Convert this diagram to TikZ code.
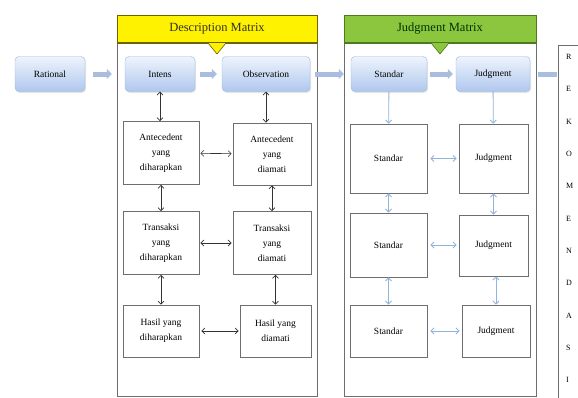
\documentclass[tikz,border=0pt]{standalone}
\usepackage{fontspec}
\setmainfont{Liberation Serif}
\usetikzlibrary{arrows.meta,shadows}

\definecolor{hdryellow}{HTML}{FFF200}
\definecolor{hdryline}{HTML}{6B6400}
\definecolor{hdrgreen}{HTML}{8CC63F}
\definecolor{hdrgline}{HTML}{4C7A1C}
\definecolor{boxtop}{HTML}{EEF4FC}
\definecolor{boxbot}{HTML}{AFC7EE}
\definecolor{boxedge}{HTML}{9DB6E0}
\definecolor{flowblue}{HTML}{A9BEDF}
\definecolor{linkblue}{HTML}{92B4DC}
\definecolor{framegray}{HTML}{6E6E6E}

\tikzset{
  flowbox/.style={draw=boxedge, rounded corners=4pt, top color=boxtop,
    bottom color=boxbot, drop shadow={opacity=0.2,shadow xshift=1pt,shadow yshift=-1.5pt},
    minimum height=35pt, font=\fontsize{9.5}{11}\selectfont},
  stepbox/.style={draw=framegray, line width=0.9pt, fill=white, align=center,
    inner sep=2pt, font=\fontsize{9.5}{15}\selectfont},
  flowarr/.style={line width=5pt, flowblue, -{Triangle[length=5pt,width=10pt]}},
  desclink/.style={<->, >={Straight Barb[length=3pt,width=6pt]}, black!80, line width=0.6pt},
  judglink/.style={<->, >={Straight Barb[length=3pt,width=6pt]}, linkblue, line width=0.8pt}
}

\begin{document}
\begin{tikzpicture}[x=1pt,y=-1pt]
  \fill[white] (0,0) rectangle (578,397);
  \clip (0,0) rectangle (578,397);
  %%%%%%%%%%%%%%%%%%%%%%%%%%%%%%%%%%%%%%%%%%%%%%
  %%% Description matrix frame
  %%%%%%%%%%%%%%%%%%%%%%%%%%%%%%%%%%%%%%%%%%%%%%
  \draw[framegray, line width=0.8pt] (117,15) rectangle (317,396);
  \draw[fill=hdryellow, draw=hdryline, line width=0.6pt] (117,15) rectangle (317,43);
  \draw[hdryline, line width=1.6pt] (117,43) -- (317,43);
  \draw[fill=hdryellow, draw=hdryline, line width=0.6pt] (208,43) -- (217,54) -- (226,43);
  \node[font=\fontsize{12.5}{14}\selectfont, text=black!85!olive] (deschead) at (217,29) {Description Matrix};
  %%%%%%%%%%%%%%%%%%%%%%%%%%%%%%%%%%%%%%%%%%%%%%
  %%% Judgment matrix frame
  %%%%%%%%%%%%%%%%%%%%%%%%%%%%%%%%%%%%%%%%%%%%%%
  \draw[framegray, line width=0.8pt] (344,15) rectangle (536,396);
  \draw[fill=hdrgreen, draw=hdrgline, line width=0.6pt] (344,15) rectangle (536,43);
  \draw[hdrgline, line width=1.6pt] (344,43) -- (536,43);
  \draw[fill=hdrgreen, draw=hdrgline, line width=0.6pt] (431,43) -- (440,54) -- (449,43);
  \node[font=\fontsize{12.5}{14}\selectfont, text=black!80!green] (judghead) at (440,29) {Judgment Matrix};

  % top row of flow boxes
  \node[flowbox, minimum width=70pt] (rational) at (50,74) {Rational};
  \node[flowbox, minimum width=70pt] (items) at (160,74) {Intens};
  \node[flowbox, minimum width=88pt] (observ) at (266,74) {Observation};
  \node[flowbox, minimum width=76pt] (standar) at (389,74) {Standar};
  \node[flowbox, minimum width=74pt] (judg) at (493,74) {Judgment};

  % recommendation column, cut by the right edge
  \draw[framegray, line width=0.8pt] (558,45) rectangle (600,400);
  \coordinate (rekom) at (558,74);
  \foreach \l [count=\i] in {R,E,K,O,M,E,N,D,A,S,I}
      \node[anchor=west, font=\fontsize{8}{9}\selectfont, inner sep=0pt] (huruf\i) at (566,{57+32.3*(\i-1)}) {\l};

  % flow arrows between the blocks
  \draw[flowarr, shorten <=8pt, shorten >=13pt] (rational) -- (items);
  \draw[flowarr, shorten <=5pt, shorten >=5pt] (items) -- (observ);
  \draw[flowarr, shorten <=5pt, shorten >=7pt] (observ) -- (standar);
  \draw[flowarr, shorten <=3pt, shorten >=3pt] (standar) -- (judg);
  \draw[line width=5pt, flowblue, shorten <=8pt, shorten >=1pt] (judg) -- (rekom);

  %%%%%%%%%%%%%%%%%%%%%%%%%%%%%%%%%%%%%%%%%%%%%%
  %%% Description matrix cells
  %%%%%%%%%%%%%%%%%%%%%%%%%%%%%%%%%%%%%%%%%%%%%%
  \node[stepbox, minimum width=76pt, minimum height=63pt] (anthar) at (161,153) {Antecedent\\yang\\diharapkan};
  \node[stepbox, minimum width=78pt, minimum height=62pt] (antama) at (272,154) {Antecedent\\yang\\diamati};
  \node[stepbox, minimum width=76pt, minimum height=63pt] (trahar) at (161,243) {Transaksi\\yang\\diharapkan};
  \node[stepbox, minimum width=78pt, minimum height=63pt] (traama) at (272,243) {Transaksi\\yang\\diamati};
  \node[stepbox, minimum width=76pt, minimum height=52pt] (hashar) at (161,331) {Hasil yang\\diharapkan};
  \node[stepbox, minimum width=71pt, minimum height=52pt] (hasama) at (275.5,331) {Hasil yang\\diamati};

  \draw[desclink] (items) -- (items |- anthar.north);
  \draw[desclink] (observ) -- (observ |- antama.north);
  \draw[desclink] (anthar) -- (trahar);
  \draw[desclink] (trahar) -- (hashar);
  \draw[desclink] (antama) -- (traama);
  \draw[desclink] (traama.south -| hasama) -- (hasama);
  \draw[desclink, shorten <=1pt, shorten >=1pt] (anthar) -- (antama);
  \draw[desclink, shorten <=1pt, shorten >=1pt] (trahar) -- (traama);
  \draw[desclink, shorten <=2pt, shorten >=1pt] (hashar) -- (hasama);

  %%%%%%%%%%%%%%%%%%%%%%%%%%%%%%%%%%%%%%%%%%%%%%
  %%% Judgment matrix cells
  %%%%%%%%%%%%%%%%%%%%%%%%%%%%%%%%%%%%%%%%%%%%%%
  \node[stepbox, minimum width=77pt, minimum height=69pt] (std1) at (388.5,158.5) {Standar};
  \node[stepbox, minimum width=69pt, minimum height=69pt] (jdg1) at (493.5,158.5) {Judgment};
  \node[stepbox, minimum width=77pt, minimum height=64pt] (std2) at (388.5,245) {Standar};
  \node[stepbox, minimum width=69pt, minimum height=61pt] (jdg2) at (493.5,245.5) {Judgment};
  \node[stepbox, minimum width=77pt, minimum height=52pt] (std3) at (388.5,331) {Standar};
  \node[stepbox, minimum width=68pt, minimum height=52pt] (jdg3) at (496,331) {Judgment};

  \draw[judglink, <-] (std1) -- (standar);
  \draw[judglink, <-] (jdg1) -- (judg);
  \draw[judglink] (std1) -- (std2);
  \draw[judglink] (std2) -- (std3);
  \draw[judglink] (jdg1) -- (jdg2);
  \draw[judglink] (jdg2.south -| jdg3) -- (jdg3);
  \foreach \r in {1,2,3}
      \draw[judglink, shorten <=3pt, shorten >=2pt] (std\r) -- (std\r -| jdg\r.west);
\end{tikzpicture}
\end{document}
